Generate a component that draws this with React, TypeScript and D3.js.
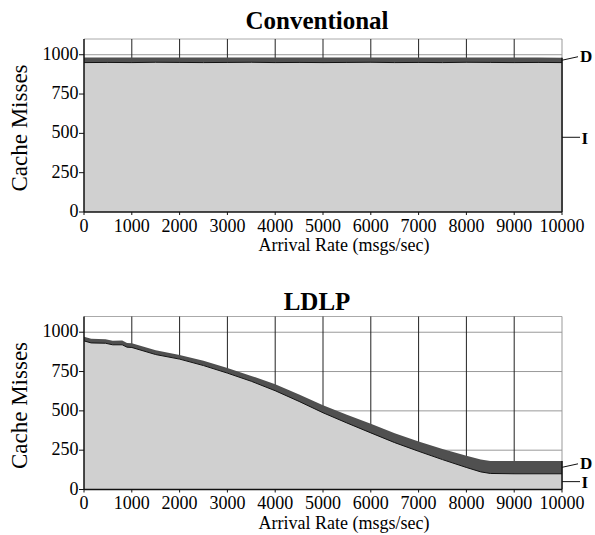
import React from 'react';
import * as d3 from 'd3';

const xTicks = [0, 1000, 2000, 3000, 4000, 5000, 6000, 7000, 8000, 9000, 10000];
const yTicks = [0, 250, 500, 750, 1000];

const convRates = [0, 500, 1000, 1500, 2000, 2500, 3000, 3500, 4000, 4500, 5000, 5500, 6000, 6500, 7000, 7500, 8000, 8500, 9000, 9500, 10000];
const convI = [950, 951, 950, 952, 951, 950, 951, 952, 950, 951, 950, 951, 952, 950, 951, 950, 952, 951, 950, 951, 950];
const convD = [32, 31, 32, 31, 31, 32, 31, 31, 32, 31, 32, 31, 31, 32, 31, 32, 31, 31, 32, 31, 30];

const ldlpRates = [0, 150, 450, 600, 800, 900, 1000, 1500, 2000, 2500, 3000, 3500, 4000, 4500, 5000, 5500, 6000, 6500, 7000, 7500, 8000, 8300, 8500, 9000, 10000];
const ldlpI = [945, 932, 930, 920, 920, 905, 903, 858, 829, 788, 740, 688, 628, 560, 488, 423, 360, 298, 243, 190, 140, 112, 102, 100, 100];
const ldlpD = [27, 26, 25, 26, 27, 27, 27, 27, 27, 30, 32, 34, 42, 44, 47, 53, 58, 60, 63, 68, 74, 78, 80, 82, 82];

const FONT = '"Liberation Serif", "Times New Roman", Times, serif';

type PanelProps = {
  title: string;
  titleY: number;
  top: number;
  rates: number[];
  iv: number[];
  dv: number[];
};

function Panel({ title, titleY, top, rates, iv, dv }: PanelProps) {
  const x = d3.scaleLinear().domain([0, 10000]).range([84, 562]);
  const y = d3.scaleLinear().domain([0, 1100]).range([top + 173, top]);
  const rows = rates.map((r, i) => ({ rate: r, I: iv[i], D: dv[i] }));
  const series = d3.stack<any>().keys(['I', 'D'])(rows as any);
  const area = d3
    .area<any>()
    .x((d) => x(d.data.rate))
    .y0((d) => y(d[0]))
    .y1((d) => y(d[1]));
  const iLine = d3
    .line<any>()
    .x((d) => x(d.rate))
    .y((d) => y(d.I));
  const x0 = x(0);
  const x1 = x(10000);
  const yb = y(0);
  const yt = y(1100);
  const last = rows[rows.length - 1];
  const iMid = y(last.I / 2);
  const dMid = y(last.I + last.D / 2);
  const totalLast = y(last.I + last.D);
  return (
    <g>
      <text x={317} y={titleY} textAnchor="middle" fontFamily={FONT} fontWeight="bold" fontSize={25}>
        {title}
      </text>
      {yTicks
        .filter((t) => t > 0)
        .map((t) => (
          <line key={'h' + t} x1={x0} x2={x1} y1={y(t)} y2={y(t)} stroke="#999" strokeWidth={1} />
        ))}
      <line x1={x0} x2={x1} y1={yt} y2={yt} stroke="#aaa" strokeWidth={1} />
      <line x1={x1} x2={x1} y1={yt} y2={yb} stroke="#999" strokeWidth={1} />
      {xTicks
        .filter((t) => t > 0 && t < 10000)
        .map((t) => (
          <line key={'v' + t} x1={x(t)} x2={x(t)} y1={yt} y2={yb} stroke="#222" strokeWidth={1} />
        ))}
      <path d={area(series[0] as any) || ''} fill="#d0d0d0" />
      <path d={area(series[1] as any) || ''} fill="#505050" />
      <path d={iLine(rows) || ''} fill="none" stroke="#111" strokeWidth={1} />
      <line x1={x1} x2={x1} y1={totalLast} y2={yb} stroke="#111" strokeWidth={1.5} />
      <line x1={x0} x2={x0} y1={yt} y2={yb} stroke="#111" strokeWidth={1.5} />
      <line x1={x0} x2={x1} y1={yb} y2={yb} stroke="#111" strokeWidth={1.5} />
      {xTicks.map((t) => (
        <g key={'xt' + t}>
          <line x1={x(t)} x2={x(t)} y1={yb} y2={yb + 3} stroke="#111" strokeWidth={1} />
          <text x={x(t)} y={yb + 19.5} textAnchor="middle" fontFamily={FONT} fontSize={18}>
            {t}
          </text>
        </g>
      ))}
      {yTicks.map((t) => (
        <g key={'yt' + t}>
          <line x1={x0 - 5} x2={x0} y1={y(t)} y2={y(t)} stroke="#111" strokeWidth={1} />
          <text x={x0 - 5.5} y={y(t) + 5} textAnchor="end" fontFamily={FONT} fontSize={18}>
            {t}
          </text>
        </g>
      ))}
      <text x={344} y={top + 212} textAnchor="middle" fontFamily={FONT} fontSize={18}>
        Arrival Rate (msgs/sec)
      </text>
      <text
        transform={`translate(26.5, ${top + 89}) rotate(-90)`}
        textAnchor="middle"
        fontFamily={FONT}
        fontSize={23}
      >
        Cache Misses
      </text>
      <line x1={x1} x2={x1 + 16} y1={dMid} y2={dMid - 3.5} stroke="#111" strokeWidth={1} />
      <text x={x1 + 18} y={dMid + 2} fontFamily={FONT} fontWeight="bold" fontSize={17}>
        D
      </text>
      <line x1={x1} x2={x1 + 18} y1={iMid} y2={iMid} stroke="#111" strokeWidth={1} />
      <text x={x1 + 19.5} y={iMid + 6.5} fontFamily={FONT} fontWeight="bold" fontSize={17}>
        I
      </text>
    </g>
  );
}

export default function App() {
  return (
    <svg
      width={595}
      height={535}
      style={{ position: 'absolute', left: 0, top: 0, background: '#fff' }}
    >
      <rect x={0} y={0} width={595} height={535} fill="#fff" />
      <Panel title="Conventional" titleY={29.3} top={39} rates={convRates} iv={convI} dv={convD} />
      <Panel title="LDLP" titleY={310} top={316.5} rates={ldlpRates} iv={ldlpI} dv={ldlpD} />
    </svg>
  );
}
